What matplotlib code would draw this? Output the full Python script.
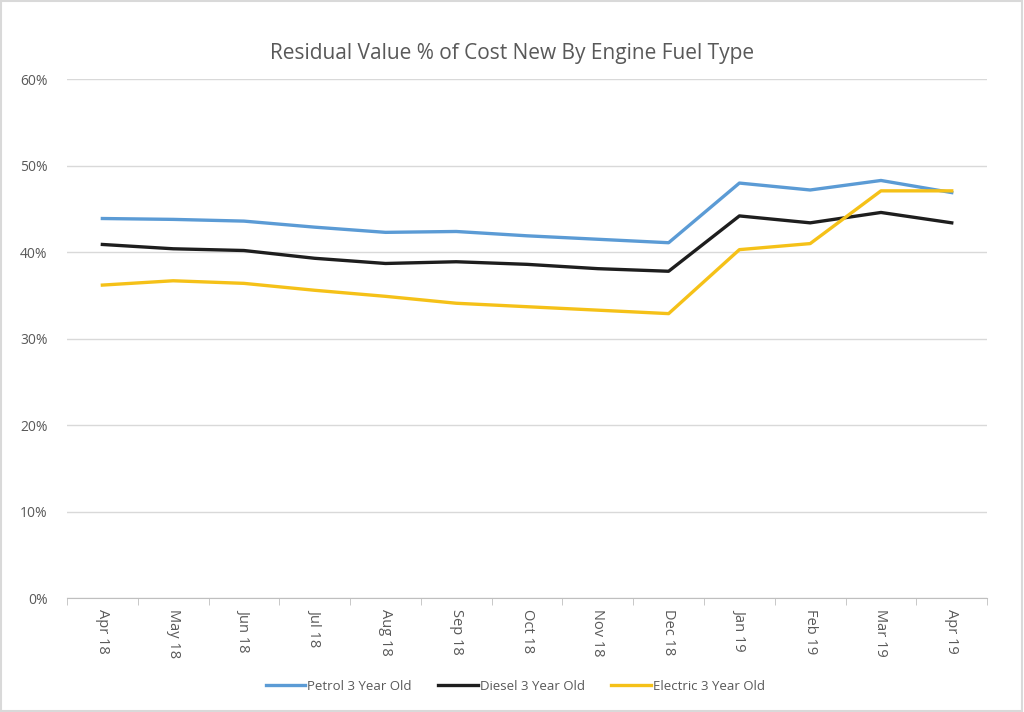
import matplotlib
matplotlib.use("Agg")
import matplotlib.pyplot as plt
from matplotlib.patches import Rectangle
from matplotlib.ticker import FuncFormatter, FixedLocator

months = ["Apr 18", "May 18", "Jun 18", "Jul 18", "Aug 18", "Sep 18", "Oct 18",
          "Nov 18", "Dec 18", "Jan 19", "Feb 19", "Mar 19", "Apr 19"]
petrol = [43.9, 43.8, 43.6, 42.9, 42.3, 42.4, 41.9, 41.5, 41.1, 48.0, 47.2, 48.3, 46.9]
diesel = [40.9, 40.4, 40.2, 39.3, 38.7, 38.9, 38.6, 38.1, 37.8, 44.2, 43.4, 44.6, 43.4]
electric = [36.2, 36.7, 36.4, 35.6, 34.9, 34.1, 33.7, 33.3, 32.9, 40.3, 41.0, 47.1, 47.1]
series_names = ["Petrol 3 Year Old", "Diesel 3 Year Old", "Electric 3 Year Old"]
colors = ["#5B9BD5", "#1E1E1E", "#F5C118"]
title = "Residual Value % of Cost New By Engine Fuel Type"

plt.rcParams['font.family'] = ['Open Sans', 'DejaVu Sans']
gray = "#595959"

fig = plt.figure(figsize=(10.24, 7.12), dpi=100)
ax = fig.add_axes([0.0654, 0.160, 0.964 - 0.0654, 0.8886 - 0.160])

x = list(range(len(months)))
for vals, name, c in zip([petrol, diesel, electric], series_names, colors):
    ax.plot(x, vals, color=c, lw=2.4, label=name, solid_joinstyle='round')

ax.set_ylim(0, 60)
ax.set_xlim(-0.5, len(months) - 0.5)
ax.set_yticks(range(0, 61, 10))
ax.yaxis.set_major_formatter(FuncFormatter(lambda v, p: f"{int(v)}%"))
ax.grid(axis='y', color='#D9D9D9', lw=1)
ax.set_axisbelow(True)
for s in ['top', 'right', 'left']:
    ax.spines[s].set_visible(False)
ax.spines['bottom'].set_color('#BFBFBF')
ax.tick_params(axis='y', length=0, labelsize=10, labelcolor=gray, pad=14)

ax.set_xticks(x)
ax.set_xticklabels(months, rotation=-90, fontsize=10.5, color=gray, va='top', ha='center')
ax.xaxis.set_minor_locator(FixedLocator([i - 0.5 for i in range(len(months) + 1)]))
ax.tick_params(axis='x', which='major', length=0, pad=8)
ax.tick_params(axis='x', which='minor', length=5, color='#BFBFBF', direction='out')

fig.text(0.5, 1 - 53 / 712, title, ha='center', va='center', fontsize=15, color=gray)

leg = fig.legend(loc='center', bbox_to_anchor=(0.503, 1 - 686 / 712), ncol=3, frameon=False,
                 fontsize=9.5, handlelength=3.0, columnspacing=2.0, handletextpad=0.15)
for t in leg.get_texts():
    t.set_color(gray)

fig.patches.append(Rectangle((0.001, 0.001), 0.997, 0.997, transform=fig.transFigure,
                             fill=False, edgecolor='#D9D9D9', lw=1.5))

fig.savefig("out.png", dpi=100)
